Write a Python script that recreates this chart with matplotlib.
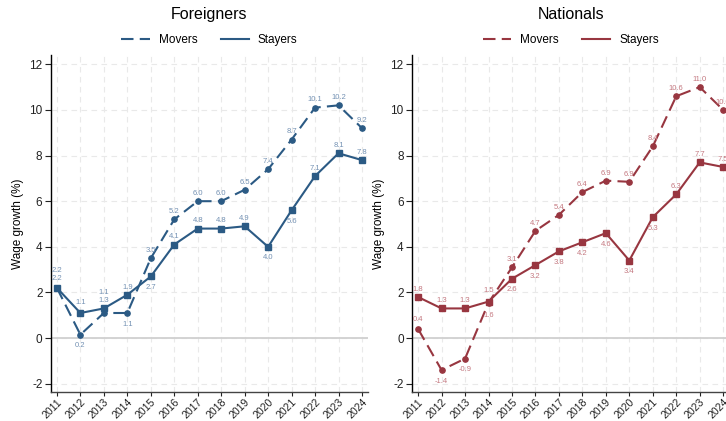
import matplotlib
matplotlib.use("Agg")
import matplotlib.pyplot as plt
from matplotlib.lines import Line2D

plt.rcParams["font.family"] = ["Liberation Sans", "DejaVu Sans"]
plt.rcParams["axes.unicode_minus"] = False

years = list(range(2011, 2025))

for_movers = [2.2, 0.15, 1.1, 1.1, 3.5, 5.2, 6.0, 6.0, 6.5, 7.4, 8.7, 10.1, 10.2, 9.2]
for_stayers = [2.2, 1.1, 1.3, 1.9, 2.7, 4.1, 4.8, 4.8, 4.9, 4.0, 5.6, 7.1, 8.1, 7.8]
nat_movers = [0.4, -1.4, -0.9, 1.55, 3.1, 4.7, 5.4, 6.4, 6.9, 6.85, 8.4, 10.6, 11.0, 10.0]
nat_stayers = [1.8, 1.3, 1.3, 1.6, 2.6, 3.2, 3.8, 4.2, 4.6, 3.4, 5.3, 6.3, 7.7, 7.5]

for_movers_lbl = ["2.2", "0.2", "1.1", "1.1", "3.5", "5.2", "6.0", "6.0", "6.5", "7.4", "8.7", "10.1", "10.2", "9.2"]
for_stayers_lbl = ["2.2", "1.1", "1.3", "1.9", "2.7", "4.1", "4.8", "4.8", "4.9", "4.0", "5.6", "7.1", "8.1", "7.8"]
nat_movers_lbl = ["0.4", "-1.4", "-0.9", "1.5", "3.1", "4.7", "5.4", "6.4", "6.9", "6.9", "8.4", "10.6", "11.0", "10.0"]
nat_stayers_lbl = ["1.8", "1.3", "1.3", "1.6", "2.6", "3.2", "3.8", "4.2", "4.6", "3.4", "5.3", "6.3", "7.7", "7.5"]

# label vertical offsets (points)
A, B = 5.5, -8
for_movers_off = [12.5, B, 14.5, B, A, A, A, A, A, A, A, A, A, A]
for_stayers_off = [6.5, A + 2, A, A, B, A, A, A, A, B, B, A, A, A]
nat_movers_off = [A + 1, B, B, A + 3, A, A, A, A, A, A, A, A, A, A]
nat_stayers_off = [A, A, A, B - 2, B, B, B, B, B, B, B, A, A, A]

blue = "#2b5a84"
blue_lbl = "#7391b3"
red = "#983640"
red_lbl = "#c47880"

fig = plt.figure(figsize=(7.26, 4.21), dpi=100)
ax1 = fig.add_axes([0.070, 0.069, 0.437, 0.800])
ax2 = fig.add_axes([0.5675, 0.069, 0.437, 0.800])

panels = [
    (ax1, "Foreigners", for_movers, for_stayers, for_movers_lbl, for_stayers_lbl,
     for_movers_off, for_stayers_off, blue, blue_lbl),
    (ax2, "Nationals", nat_movers, nat_stayers, nat_movers_lbl, nat_stayers_lbl,
     nat_movers_off, nat_stayers_off, red, red_lbl),
]

for ax, title, mv, st, mvl, stl, mvo, sto, col, lcol in panels:
    ax.set_xlim(2010.74, 2024.26)
    ax.set_ylim(-2.36, 12.4)
    ax.grid(True, color="#e9e9e9", linestyle=(0, (5, 4)), linewidth=0.8)
    ax.set_axisbelow(True)
    ax.axhline(0, color="#d0d0d0", linewidth=1.3, zorder=1)
    ax.plot(years, mv, color=col, linewidth=1.5, linestyle=(0, (6, 3)),
            marker="o", markersize=3.8, zorder=3, clip_on=False)
    ax.plot(years, st, color=col, linewidth=1.5, linestyle="-",
            marker="s", markersize=5, zorder=3, clip_on=False)
    for x, y, t, o in zip(years, mv, mvl, mvo):
        ax.annotate(t, (x, y), xytext=(0, o), textcoords="offset points",
                    ha="center", va="center", fontsize=5.5, color=lcol, zorder=4)
    for x, y, t, o in zip(years, st, stl, sto):
        ax.annotate(t, (x, y), xytext=(0, o), textcoords="offset points",
                    ha="center", va="center", fontsize=5.5, color=lcol, zorder=4)
    ax.set_xticks(years)
    ax.set_xticklabels([str(y) for y in years], rotation=45, ha="right",
                       rotation_mode="anchor", fontsize=7.6)
    ax.set_yticks(range(-2, 13, 2))
    ax.tick_params(axis="y", labelsize=8.5, length=4, width=0.8, colors="#222222", pad=2)
    ax.tick_params(axis="x", length=3, width=0.8, colors="#222222", pad=0.8)
    for s in ["top", "right"]:
        ax.spines[s].set_visible(False)
    ax.spines["left"].set_linewidth(1.0)
    ax.spines["bottom"].set_linewidth(1.0)
    ax.spines["bottom"].set_color("#444444")
    ax.set_ylabel("Wage growth (%)", fontsize=8.5, labelpad=4)
    ax.text(0.5, 1.12, title, transform=ax.transAxes, ha="center", va="center",
            fontsize=11.5)
    handles = [
        Line2D([], [], color=col, linewidth=1.5, linestyle=(0, (6, 3))),
        Line2D([], [], color=col, linewidth=1.5, linestyle="-"),
    ]
    ax.legend(handles, ["Movers", "Stayers"], loc="center",
              bbox_to_anchor=(0.5, 1.045), ncol=2, frameon=False, fontsize=8.5,
              handlelength=2.4, columnspacing=2.0, handletextpad=0.75)

fig.savefig("out.png", dpi=100)
